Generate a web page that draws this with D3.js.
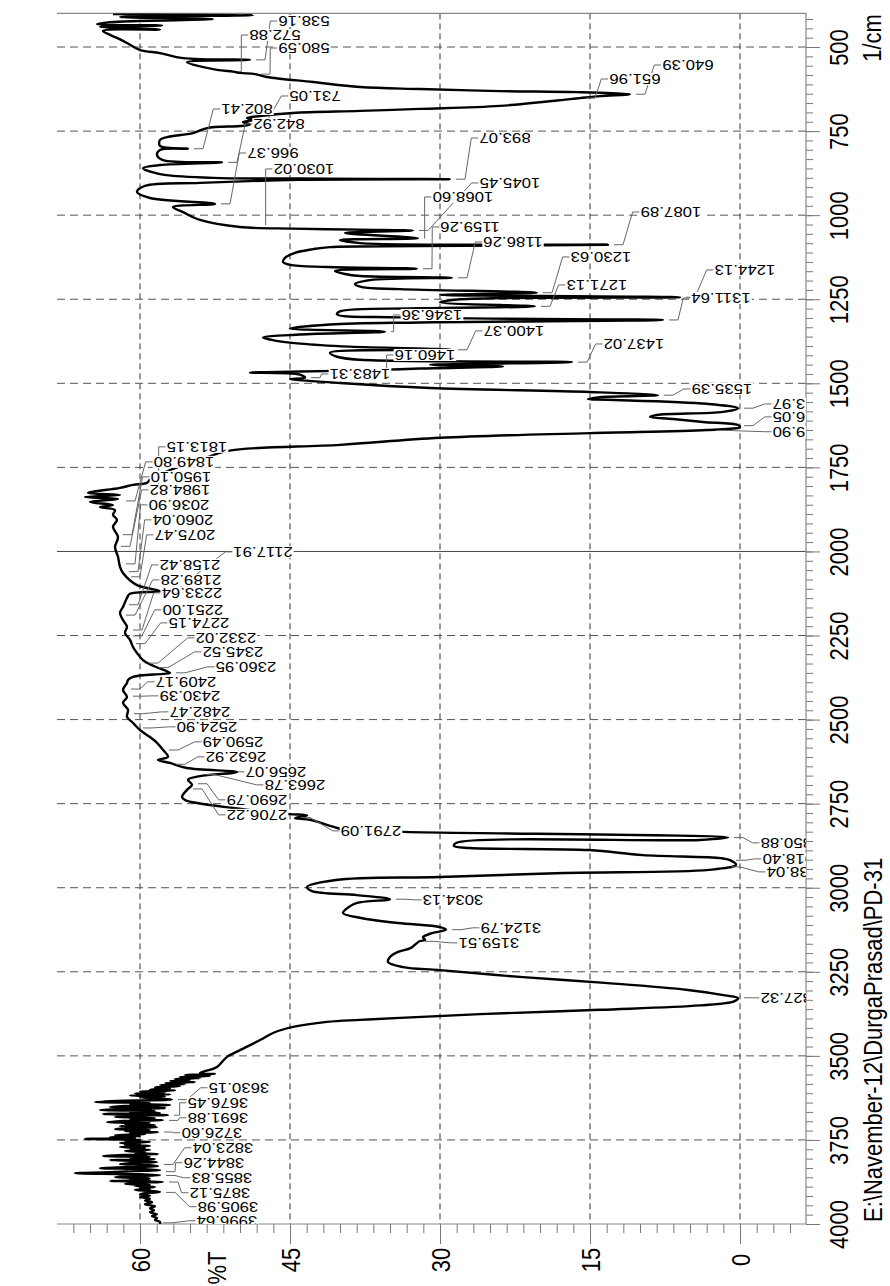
<!DOCTYPE html>
<html>
<head>
<meta charset="utf-8">
<script src="https://cdnjs.cloudflare.com/ajax/libs/d3/7.8.5/d3.min.js"></script>
<style>
  body { margin: 0; background: #fff; }
  text { font-family: "Liberation Sans", Arial, sans-serif; }
</style>
</head>
<body>
<div id="app"></div>
<script>
// IR spectrum, drawn rotated: wavenumber runs down the right side, %T along the bottom

// [wavenumber 1/cm, %T]
const fingerprint = [
  [402,62.7],[405,48.7],[411,62.0],[417,52.7],[426,63.0],[432,64.3],[436,57.8],[440,64.0],[448,58.0],[452,63.7],
  [464,63.0],[473,62.3],[488,61.3],[509,60.0],[518,58.0],[533,55.7],[538.2,49.0],[545,55.3],[568,52.3],[573,50.7],
  [577,50.0],[580.6,48.5],[589,47.3],[604,42.7],[619,38.0],[625,32.0],[631,24.0],[634,16.3],[640.4,11.0],[646,14.0],
  [652,16.0],[655,17.0],[675,24.0],[684,32.0],[690,38.0],[696,44.7],[705,48.0],[711,49.3],[717,48.7],[723,49.7],
  [731,49.0],[735,50.0],[741,53.3],[756,54.7],[768,57.3],[776,58.0],[794,58.0],[802.4,55.2],[806,58.0],[821,58.3],
  [836,57.7],[842.9,51.8],[851,58.0],[860,59.7],[878,58.0],[889,52.7],[891,44.0],[893.1,29.0],[895,44.0],[904,54.0],
  [913,59.5],[931,60.3],[949,59.0],[966.4,52.5],[976,56.7],[991,55.7]
];

const midRange = [
  [1014,54.0],[1035,50.0],[1040,44.7],[1043,38.0],[1045.5,32.7],[1053,39.5],[1068.6,32.2],[1074,40.0],[1083,38.0],[1087.9,13.2],
  [1092,32.0],[1095,41.0],[1101,42.7],[1112,44.5],[1127,45.5],[1139,45.7],[1148,45.0],[1154,41.3],[1159.3,32.3],[1166,40.5],
  [1175,39.5],[1181,38.0],[1186.3,28.8],[1193,37.0],[1205,38.5],[1214,37.8],[1220,34.0],[1230.6,20.3],[1237,30.0],[1244.1,6.0],
  [1250,28.0],[1259,30.0],[1271.1,20.5],[1277,32.0],[1286,40.0],[1295,40.3],[1304,34.0],[1311.6,7.7],[1319,32.0],[1325,41.0],
  [1337,45.0],[1346.4,35.5],[1355,44.0],[1364,47.7],[1373,46.5],[1382,44.0],[1391,39.0],[1400.4,28.8],[1409,41.0],[1421,40.3],
  [1430,38.0],[1437,16.8],[1445,31.0],[1450,23.7],[1456,32.0],[1460.2,36.0],[1465,44.0],[1468,49.0],[1474,44.0],[1483.3,43.5],
  [1487,45.0],[1499,40.0],[1514,31.0],[1526,15.0],[1535.4,8.2],[1541,14.0],[1547,15.2],[1549,13.3],[1561,3.3],[1574,0.2],
  [1585,1.7],[1594,8.3],[1600,9.0],[1606,6.7],[1615,3.7],[1624,0.2],[1630,0.0],[1639,3.3],[1648,15.0],[1662,30.0],
  [1683,40.0],[1701,51.2],[1728,54.0],[1758,57.0],[1787,59.0],[1796,59.3],[1802,60.7],[1811,62.0],[1826,65.2],[1832,62.0],
  [1838,65.5],[1844,62.2],[1853,65.0],[1862,62.7],[1868,64.0],[1877,62.5],[1891,62.7],[1906,62.3],[1927,62.7],[1957,62.2],
  [1987,62.5]
];

const highRange = [
  [2016,62.2],[2046,62.0],[2064,61.7],[2100,60.3],[2117.9,58.0],[2126,61.0],[2138,61.3],[2165,61.7],[2183,62.0],[2204,61.7],
  [2224,61.3],[2242,61.5],[2263,61.0],[2284,60.7],[2302,60.3],[2323,59.7],[2340,58.7],[2361,57.0],[2364,57.7],[2373,60.7],
  [2382,61.2],[2391,61.3],[2412,61.7],[2433,61.3],[2450,61.7],[2471,61.2],[2492,61.3],[2510,60.7],[2531,60.0],[2552,59.0],
  [2569,58.3],[2590,57.7],[2611,57.2],[2620,58.2],[2629,57.0],[2644,55.3],[2656.1,50.3],[2668,54.0],[2679,55.2],[2694,54.8],
  [2709,55.3],[2730,55.8],[2739,55.5],[2748,54.3],[2763,50.7],[2775,47.3],[2781,45.0],[2785,43.3],[2793,44.5],[2798,43.0],
  [2816,41.0],[2828,39.5],[2834,33.7],[2850.9,1.2],[2858,4.0],[2867,28.4],[2876,28.6],[2882,27.0],[2888,15.1],[2903,9.7],
  [2912,1.9],[2918,1.0],[2932,0.4],[2947,3.1],[2956,17.6],[2968,30.0],[2977,40.4],[2998,43.3],[3010,42.8],[3022,38.3],
  [3034,35.0],[3045,38.3],[3057,39.1],[3075,39.7],[3090,37.9],[3105,34.2],[3117,30.0],[3125,29.4],[3135,30.8],[3147,31.7],
  [3155,31.5],[3160,32.1],[3179,32.9],[3191,34.2],[3206,35.0],[3221,35.2],[3236,33.7],[3245,30.0],[3266,21.7],[3283,13.5],
  [3304,5.2],[3320,1.5],[3328,0.2],[3338,0.6],[3350,4.0],[3363,14.0],[3376,26.0],[3387,34.0],[3393,38.0],[3399,41.3],
  [3414,44.7],[3432,46.7],[3453,48.0],[3483,50.0],[3503,51.3],[3533,52.3]
];

// noisy high-wavenumber end
const noiseRange = [
  [3551,54.0],[3554,52.5],[3557,55.5],[3560,53.0],[3563,56.0],[3566,54.0],[3569,56.5],[3572,55.0],[3575,57.0],[3578,54.5],
  [3581,57.5],[3584,55.5],[3587,58.0],[3590,56.0],[3593,58.5],[3596,57.0],[3600,59.0],[3603,56.5],[3606,60.0],[3609,57.5],
  [3612,60.5],[3615,57.0],[3618,61.0],[3621,57.5],[3624,60.0],[3627,58.0],[3630,56.8],[3633,61.5],[3637,64.5],[3640,59.0],
  [3643,61.0],[3646,57.0],[3649,61.5],[3652,63.0],[3655,57.5],[3658,62.0],[3661,64.0],[3664,58.5],[3667,61.0],[3670,58.0],
  [3673,63.7],[3676,57.2],[3679,61.5],[3682,62.5],[3685,58.5],[3688,61.0],[3691,57.7],[3694,62.0],[3697,63.3],[3700,59.0],
  [3703,61.5],[3706,58.5],[3709,62.0],[3712,58.3],[3715,61.0],[3718,62.5],[3721,59.0],[3724,61.5],[3727,58.2],[3730,61.0],
  [3733,59.5],[3736,62.5],[3739,60.0],[3742,63.0],[3745,60.5],[3747,65.5],[3750,60.0],[3753,61.5],[3756,59.0],[3759,62.0],
  [3762,60.0],[3765,61.5],[3768,59.0],[3771,62.0],[3774,59.5],[3777,61.0],[3780,59.0],[3783,61.5],[3786,59.5],[3789,60.5],
  [3792,58.2],[3795,61.5],[3798,63.7],[3801,59.0],[3804,61.0],[3807,58.5],[3810,63.0],[3813,59.5],[3816,58.3],[3819,61.0],
  [3822,62.0],[3825,59.0],[3828,58.2],[3831,61.5],[3834,64.0],[3837,59.5],[3840,58.0],[3843,61.0],[3846,63.0],[3849,66.5],
  [3852,60.0],[3855,58.0],[3858,61.5],[3861,62.5],[3864,59.0],[3867,61.0],[3870,59.0],[3872,63.0],[3875,57.7],[3878,60.5],
  [3881,61.5],[3884,59.0],[3887,60.5],[3890,58.5],[3893,60.0],[3896,59.0],[3899,60.5],[3902,59.0],[3905,58.0],[3908,59.5],
  [3912,60.0],[3916,59.0],[3920,60.0],[3925,59.0],[3930,59.5],[3935,58.8],[3941,59.5],[3947,58.5],[3953,59.0],[3959,58.6],
  [3965,59.0],[3971,58.3],[3976,58.8],[3982,58.3],[3988,58.5],[3994,58.0],[4000,58.0]
];

// peak labels: text, %T at the peak, label centre (%T, wavenumber)
const peakText = [
  "538.16","572.88","580.59","640.39","651.96","731.05","802.41","842.92","893.07","966.37",
  "1030.02","1045.45","1068.60","1087.89","1159.26","1186.26","1230.63","1244.13","1271.13","1311.64",
  "1346.36","1400.37","1437.02","1460.16","1483.31","1535.39","1573.97","1626.05","1639.90",
  "1813.15","1849.80","1950.10","1984.82","2036.90","2060.04","2075.47","2117.91","2158.42","2189.28",
  "2233.64","2251.00","2274.15","2332.02","2345.52","2360.95","2409.17","2430.39","2482.47","2524.90",
  "2590.49","2632.92","2656.07","2663.78","2690.79","2706.22","2791.09","2850.88","2918.40","2938.04",
  "3034.13","3124.79","3159.51","3327.32","3630.15","3676.45","3691.88","3726.60","3823.04","3844.26",
  "3855.83","3875.12","3905.98","3996.64"
];
const peakT = [
  49.0,50.7,48.5,11.0,16.0,49.0,55.2,51.8,29.0,52.5,
  48.0,32.7,32.2,13.2,32.3,28.8,20.3,6.0,20.5,7.7,
  35.5,28.8,16.8,36.0,43.5,8.2,0.2,0.2,3.0,
  59.3,62.0,62.3,62.5,62.0,61.7,61.5,58.0,61.7,62.0,
  61.3,61.3,61.0,59.7,58.7,57.0,61.5,61.3,61.2,60.3,
  57.7,57.0,50.3,54.0,54.8,55.3,44.5,1.2,1.0,1.5,
  35.0,29.4,32.1,0.2,56.8,57.2,57.7,58.2,58.2,58.0,
  58.0,57.7,58.0,58.3
];
const labelT = [
  43.6,46.5,43.6,5.2,10.5,42.5,49.3,46.1,23.5,46.7,
  43.6,23.0,27.7,6.9,27.0,22.7,13.9,-0.5,14.3,1.9,
  30.8,22.6,10.6,31.5,38.0,1.8,-6.3,-6.3,-6.3,
  54.3,55.6,55.9,56.0,56.1,55.7,55.5,47.7,55.0,54.9,
  54.8,54.7,54.1,51.4,50.7,49.4,55.4,55.0,54.0,53.3,
  50.7,50.4,46.4,44.5,48.3,48.3,36.9,-5.1,-5.3,-5.7,
  28.7,22.9,25.1,-5.1,50.1,52.2,52.2,52.8,51.7,52.6,
  51.8,52.0,51.2,51.3
];
const labelWn = [
  422.6,464.2,502.9,553.4,595.0,645.6,684.2,728.8,770.5,815.1,
  862.6,904.2,945.9,990.5,1035.1,1079.7,1124.3,1162.9,1207.5,1246.2,
  1296.7,1344.3,1383.0,1415.7,1472.2,1516.8,1561.4,1600.0,1644.0,
  1689.0,1733.6,1778.2,1816.9,1861.5,1906.1,1950.7,2001.3,2040.0,2084.6,
  2123.2,2173.8,2212.4,2257.0,2298.6,2343.2,2387.8,2429.5,2477.0,2521.6,
  2566.2,2610.8,2655.4,2694.1,2738.7,2783.3,2830.9,2866.6,2914.2,2952.9,
  3036.1,3119.3,3163.9,3327.4,3594.9,3639.5,3684.1,3728.7,3773.3,3817.9,
  3862.5,3907.1,3948.7,3990.4
];

const wnTicks = [500, 750, 1000, 1250, 1500, 1750, 2000, 2250, 2500, 2750, 3000, 3250, 3500, 3750, 4000];
const tTicks = [60, 45, 30, 15, 0];
const cursorWn = 2000;

const width = 890, height = 1286;
const pLeft = 57, pRight = 806, pTop = 13.4, pBottom = 1224;

const x = d3.scaleLinear().domain([68.3, -6.6]).range([pLeft, pRight]);
const y = d3.scaleLinear().domain([400, 4000]).range([pTop, pBottom]);

const svg = d3.select("#app").append("svg")
    .attr("width", width)
    .attr("height", height);

svg.append("defs").append("clipPath").attr("id", "plot")
  .append("rect")
    .attr("x", pLeft).attr("y", pTop)
    .attr("width", pRight - pLeft).attr("height", pBottom - pTop);

// grid
svg.append("g").selectAll("line")
  .data(tTicks).enter().append("line")
    .attr("x1", d => x(d)).attr("x2", d => x(d))
    .attr("y1", pTop).attr("y2", pBottom)
    .attr("stroke", "#333").attr("stroke-width", 1)
    .attr("stroke-dasharray", "6,4");

svg.append("g").selectAll("line")
  .data(wnTicks.filter(d => d < 4000 && d !== cursorWn)).enter().append("line")
    .attr("x1", pLeft).attr("x2", pRight)
    .attr("y1", d => y(d)).attr("y2", d => y(d))
    .attr("stroke", "#555").attr("stroke-width", 1)
    .attr("stroke-dasharray", "8,5");

svg.append("line")
    .attr("x1", pLeft).attr("x2", pRight)
    .attr("y1", y(cursorWn)).attr("y2", y(cursorWn))
    .attr("stroke", "#444").attr("stroke-width", 1);

// axes
const minorWn = d3.range(-3, 127).map(k => 500 + k * 250 / 9).filter(v => v >= 400 && v <= 4000.01);
const minorT = d3.range(-3, 41).map(k => k * 15 / 9).filter(v => v >= -6.6 && v <= 68.3);

function styleAxis(g) {
  g.attr("font-size", null).attr("font-family", null);
  g.select(".domain").remove();
  g.selectAll(".tick line").attr("stroke", "#777");
}

svg.append("g")
    .attr("transform", `translate(${pRight},0)`)
    .call(d3.axisRight(y).tickValues(minorWn).tickSize(7).tickSizeOuter(0).tickFormat(""))
    .call(styleAxis);

svg.append("g")
    .attr("transform", `translate(${pRight},0)`)
    .call(d3.axisRight(y).tickValues(wnTicks).tickSize(14).tickSizeOuter(0).tickFormat(d3.format("d")))
    .call(styleAxis)
    .call(g => g.selectAll(".tick text")
        .attr("x", null).attr("dy", "0.35em")
        .attr("text-anchor", "middle")
        .attr("transform", "translate(33,0) scale(1.2,1) rotate(-90)")
        .style("font-size", "22px")
        .attr("fill", "#000"));

svg.append("g")
    .attr("transform", `translate(0,${pBottom})`)
    .call(d3.axisBottom(x).tickValues(minorT).tickSize(9).tickSizeOuter(0).tickFormat(""))
    .call(styleAxis);

svg.append("g")
    .attr("transform", `translate(0,${pBottom})`)
    .call(d3.axisBottom(x).tickValues(tTicks).tickSize(20).tickSizeOuter(0).tickFormat(d3.format("d")))
    .call(styleAxis)
    .call(g => g.selectAll(".tick text")
        .attr("y", null).attr("dy", "0.35em")
        .attr("text-anchor", "middle")
        .attr("transform", "translate(0,36) scale(1.2,1) rotate(-90)")
        .style("font-size", "22px")
        .attr("fill", "#000"));

// frame: top, right, bottom
svg.append("path")
    .attr("d", d3.line()([[pLeft, pTop], [pRight, pTop], [pRight, pBottom], [pLeft, pBottom]]))
    .attr("fill", "none").attr("stroke", "#888").attr("stroke-width", 1.2);

// axis titles
svg.append("text")
    .attr("transform", `translate(${x(52.3)},1268) scale(1.2,1) rotate(-90)`)
    .attr("text-anchor", "middle").attr("dy", "0.35em")
    .style("font-size", "22px")
    .text("%T");

svg.append("text")
    .attr("transform", "translate(872,38) scale(1.2,1) rotate(-90)")
    .attr("text-anchor", "middle").attr("dy", "0.35em")
    .style("font-size", "22px")
    .text("1/cm");

svg.append("text")
    .attr("transform", "translate(873,1222) scale(1.2,1) rotate(-90)")
    .attr("text-anchor", "start").attr("dy", "0.35em")
    .style("font-size", "22px")
    .text("E:\\Navember-12\\DurgaPrasad\\PD-31");

// spectrum
const spectrum = fingerprint.concat(midRange, highRange, noiseRange);
const line = d3.line()
    .x(d => x(d[1]))
    .y(d => y(d[0]))
    .curve(d3.curveCatmullRom.alpha(0.5));

const plot = svg.append("g").attr("clip-path", "url(#plot)");

plot.append("path")
    .datum(spectrum)
    .attr("d", line)
    .attr("fill", "none")
    .attr("stroke", "#000")
    .attr("stroke-width", 2.4)
    .attr("stroke-linejoin", "round");

// peak labels with leaders
const peaks = peakText.map((t, i) => ({
  text: t, wn: +t, t: peakT[i], lt: labelT[i], lw: labelWn[i]
}));

const leaders = plot.append("g");
const labels = plot.append("g");

peaks.forEach(p => {
  const cx = x(p.lt), cy = y(p.lw);
  const g = labels.append("g");
  const bg = g.append("rect").attr("fill", "#fff");
  const txt = g.append("text")
      .attr("transform", `translate(${cx},${cy}) scale(1.2,1) rotate(180)`)
      .attr("text-anchor", "middle").attr("dy", "0.35em")
      .style("font-size", "14px")
      .text(p.text);
  const w = txt.node().getComputedTextLength() * 1.2;
  bg.attr("x", cx - w / 2 - 1).attr("y", cy - 6).attr("width", w + 2).attr("height", 12);

  const px = x(p.t), py = y(p.wn);
  const lx = cx - w / 2 - 1;
  const bend = Math.min(px + 15, lx - 7);
  leaders.append("path")
      .attr("d", d3.line()([[lx, cy], [lx - 7, cy], [bend, py], [Math.min(px + 6, bend), py]]))
      .attr("fill", "none")
      .attr("stroke", "#666")
      .attr("stroke-width", 1);
});
</script>
</body>
</html>
